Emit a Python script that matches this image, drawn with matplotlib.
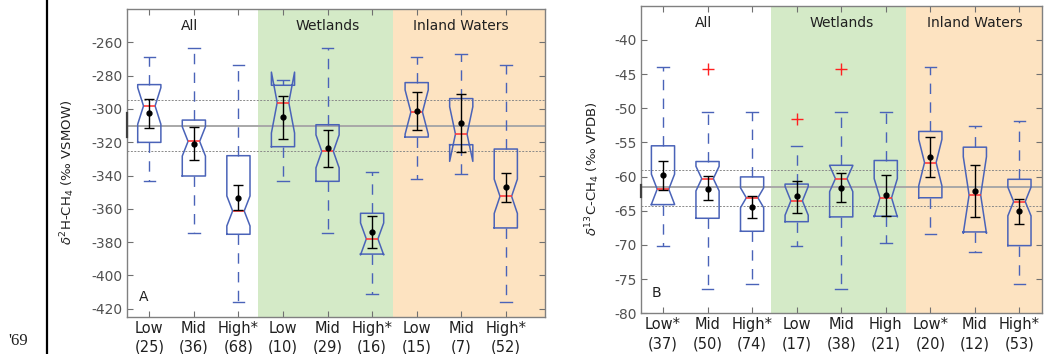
import matplotlib
matplotlib.use("Agg")
import matplotlib.pyplot as plt
from matplotlib.lines import Line2D
import numpy as np

# ---- panel A : dD-CH4 (permil VSMOW) ----
labels_a = ["Low\n(25)", "Mid\n(36)", "High*\n(68)",
            "Low\n(10)", "Mid\n(29)", "High*\n(16)",
            "Low\n(15)", "Mid\n(7)", "High*\n(52)"]
whishi_a = [-269.0, -263.2, -273.6, -282.4, -263.2, -337.9, -269.0, -267.0, -273.6]
q3_a = [-285.4, -306.7, -328.1, -285.8, -309.5, -362.7, -284.2, -293.8, -324.1]
med_a = [-298.2, -319.5, -361.3, -296.2, -325.5, -378.1, -301.9, -315.1, -352.5]
q1_a = [-320.1, -340.3, -375.3, -322.7, -343.5, -387.2, -316.9, -321.5, -371.5]
whislo_a = [-343.5, -374.5, -416.2, -343.5, -374.5, -411.0, -342.1, -339.3, -416.2]
notch_a = [11.0, 8.8, 9.0, 18.3, 9.9, 9.6, 13.3, 16.4, 10.3]
mean_a = [-302.7, -320.9, -353.3, -305.1, -323.7, -373.9, -301.2, -308.3, -347.1]
errhi_a = [-294.2, -311.1, -345.7, -292.2, -312.5, -364.5, -289.8, -290.8, -338.5]
errlo_a = [-311.3, -330.7, -360.9, -318.3, -334.9, -383.5, -312.9, -326.1, -355.9]
fliers_a = [[], [], [], [], [], [], [], [], []]
ref_a = [-310.1, -294.6, -325.1]   # overall mean and band
mark_a = [-302.4, -316.7]          # dark bit on left spine

# ---- panel B : d13C-CH4 (permil VPDB) ----
labels_b = ["Low*\n(37)", "Mid\n(50)", "High*\n(74)",
            "Low\n(17)", "Mid\n(38)", "High\n(21)",
            "Low*\n(20)", "Mid\n(12)", "High*\n(53)"]
whishi_b = [-44.0, -50.5, -50.6, -55.5, -50.5, -50.6, -44.0, -52.55, -51.9]
q3_b = [-55.5, -57.8, -60.05, -61.1, -58.35, -57.65, -53.4, -55.7, -60.4]
med_b = [-61.85, -60.3, -63.1, -63.55, -60.3, -63.1, -57.95, -62.7, -63.65]
q1_b = [-64.1, -66.1, -68.0, -66.6, -65.9, -65.8, -63.1, -68.1, -70.1]
whislo_b = [-70.2, -76.4, -75.7, -70.2, -76.4, -69.7, -68.4, -71.05, -75.7]
notch_b = [2.2, 1.8, 1.45, 2.1, 1.9, 2.8, 3.4, 5.6, 2.1]
mean_b = [-59.8, -61.75, -64.4, -62.9, -61.6, -62.7, -57.2, -62.1, -65.0]
errhi_b = [-57.7, -59.9, -62.9, -60.6, -59.5, -59.7, -54.2, -58.25, -63.3]
errlo_b = [-61.9, -63.5, -66.0, -65.3, -63.65, -65.75, -60.1, -65.9, -66.95]
fliers_b = [[], [-44.2], [], [-51.6], [-44.2], [], [], [], []]
ref_b = [-61.5, -59.0, -64.3]
mark_b = [-61.3, -63.0]

groups = ["All", "Wetlands", "Inland Waters"]

BLUE = "#4a63b8"
GREEN = "#d4eac7"
ORANGE = "#fde3c1"


def draw_panel(ax, labels, whishi, q3, med, q1, whislo, notch, mean, errhi, errlo,
               fliers, ref, mark, xlim, ylim, yticks, split, letter, ylabel, ylab_x):
    pos = np.arange(1, len(labels) + 1)

    ax.axvspan(split[0], split[1], color=GREEN, lw=0, zorder=0)
    ax.axvspan(split[1], xlim[1], color=ORANGE, lw=0, zorder=0)

    ax.axhline(ref[0], color="#a8a8a8", lw=1.4, zorder=1)
    ax.axhline(ref[1], color="#8a8a8a", lw=0.7, ls=(0, (2, 1.5)), zorder=1)
    ax.axhline(ref[2], color="#8a8a8a", lw=0.7, ls=(0, (2, 1.5)), zorder=1)

    stats = []
    for i in range(len(labels)):
        stats.append({"med": med[i], "q1": q1[i], "q3": q3[i],
                      "whislo": whislo[i], "whishi": whishi[i],
                      "cilo": med[i] - notch[i], "cihi": med[i] + notch[i],
                      "fliers": fliers[i]})
    ax.bxp(stats, positions=pos, widths=0.52, shownotches=True, showfliers=True,
           manage_ticks=False,
           boxprops=dict(color=BLUE, lw=1.1),
           whiskerprops=dict(color=BLUE, lw=1.0, ls=(0, (7.5, 6))),
           capprops=dict(color=BLUE, lw=1.0),
           medianprops=dict(color="#ff3b3b", lw=1.2),
           flierprops=dict(marker="+", markeredgecolor="#ff2020", markersize=8,
                           markeredgewidth=1.0))

    mean = np.array(mean)
    yerr = [mean - np.array(errlo), np.array(errhi) - mean]
    ax.errorbar(pos, mean, yerr=yerr, fmt="o", color="k", ms=3.5, lw=1.0,
                capsize=3.8, capthick=1.0, zorder=4)

    # short dark stroke sitting on the left spine
    ax.plot([xlim[0], xlim[0]], mark, color="#404040", lw=1.6, clip_on=False, zorder=5)

    ax.set_xlim(xlim)
    ax.set_ylim(ylim)
    ax.set_yticks(yticks)
    ax.set_yticklabels(["%g" % t for t in yticks])
    ax.set_xticks(pos)
    ax.set_xticklabels(labels, linespacing=1.3)
    ax.tick_params(axis="both", direction="in", top=True, right=True,
                   length=4, color="#707070")
    ax.tick_params(axis="y", labelsize=10, labelcolor="#505050", pad=3)
    ax.tick_params(axis="x", labelsize=10.5, labelcolor="#202020", pad=3)
    for s in ax.spines.values():
        s.set_color("#808080")
        s.set_linewidth(1.0)

    for x, g in zip([1.9, 5.0, 8.0], groups):
        ax.text(x, 0.945, g, transform=ax.get_xaxis_transform(),
                ha="center", va="center", fontsize=10, color="#202020")
    ax.text(0.028, 0.065, letter, transform=ax.transAxes, ha="left",
            va="center", fontsize=10, color="#202020")
    ax.set_ylabel(ylabel, fontsize=9.5, color="#202020")
    ax.yaxis.set_label_coords(ylab_x, 0.47)


fig = plt.figure(figsize=(10.62, 3.54), dpi=100)
ax1 = fig.add_axes([0.1196, 0.1045, 0.3936, 0.870])
ax2 = fig.add_axes([0.6033, 0.115, 0.3776, 0.869])

draw_panel(ax1, labels_a, whishi_a, q3_a, med_a, q1_a, whislo_a, notch_a, mean_a,
           errhi_a, errlo_a, fliers_a, ref_a, mark_a, (0.5, 9.88), (-425, -240),
           np.arange(-420, -259, 20), (3.43, 6.46), "A",
           r"$\delta^{2}$H-CH$_4$ (‰ VSMOW)", -0.12)
draw_panel(ax2, labels_b, whishi_b, q3_b, med_b, q1_b, whislo_b, notch_b, mean_b,
           errhi_b, errlo_b, fliers_b, ref_b, mark_b, (0.5, 9.5), (-80, -35),
           np.arange(-80, -39, 5), (3.42, 6.45), "B",
           r"$\delta^{13}$C-CH$_4$ (‰ VPDB)", -0.097)

# page margin bits from the source document
fig.add_artist(Line2D([47 / 1062, 47 / 1062], [0, 1], transform=fig.transFigure,
                      color="k", lw=1.6))
fig.text(8 / 1062, 0.025, "'69", fontsize=12, family="Liberation Serif", color="#202020")

fig.savefig("out.png", dpi=100)
